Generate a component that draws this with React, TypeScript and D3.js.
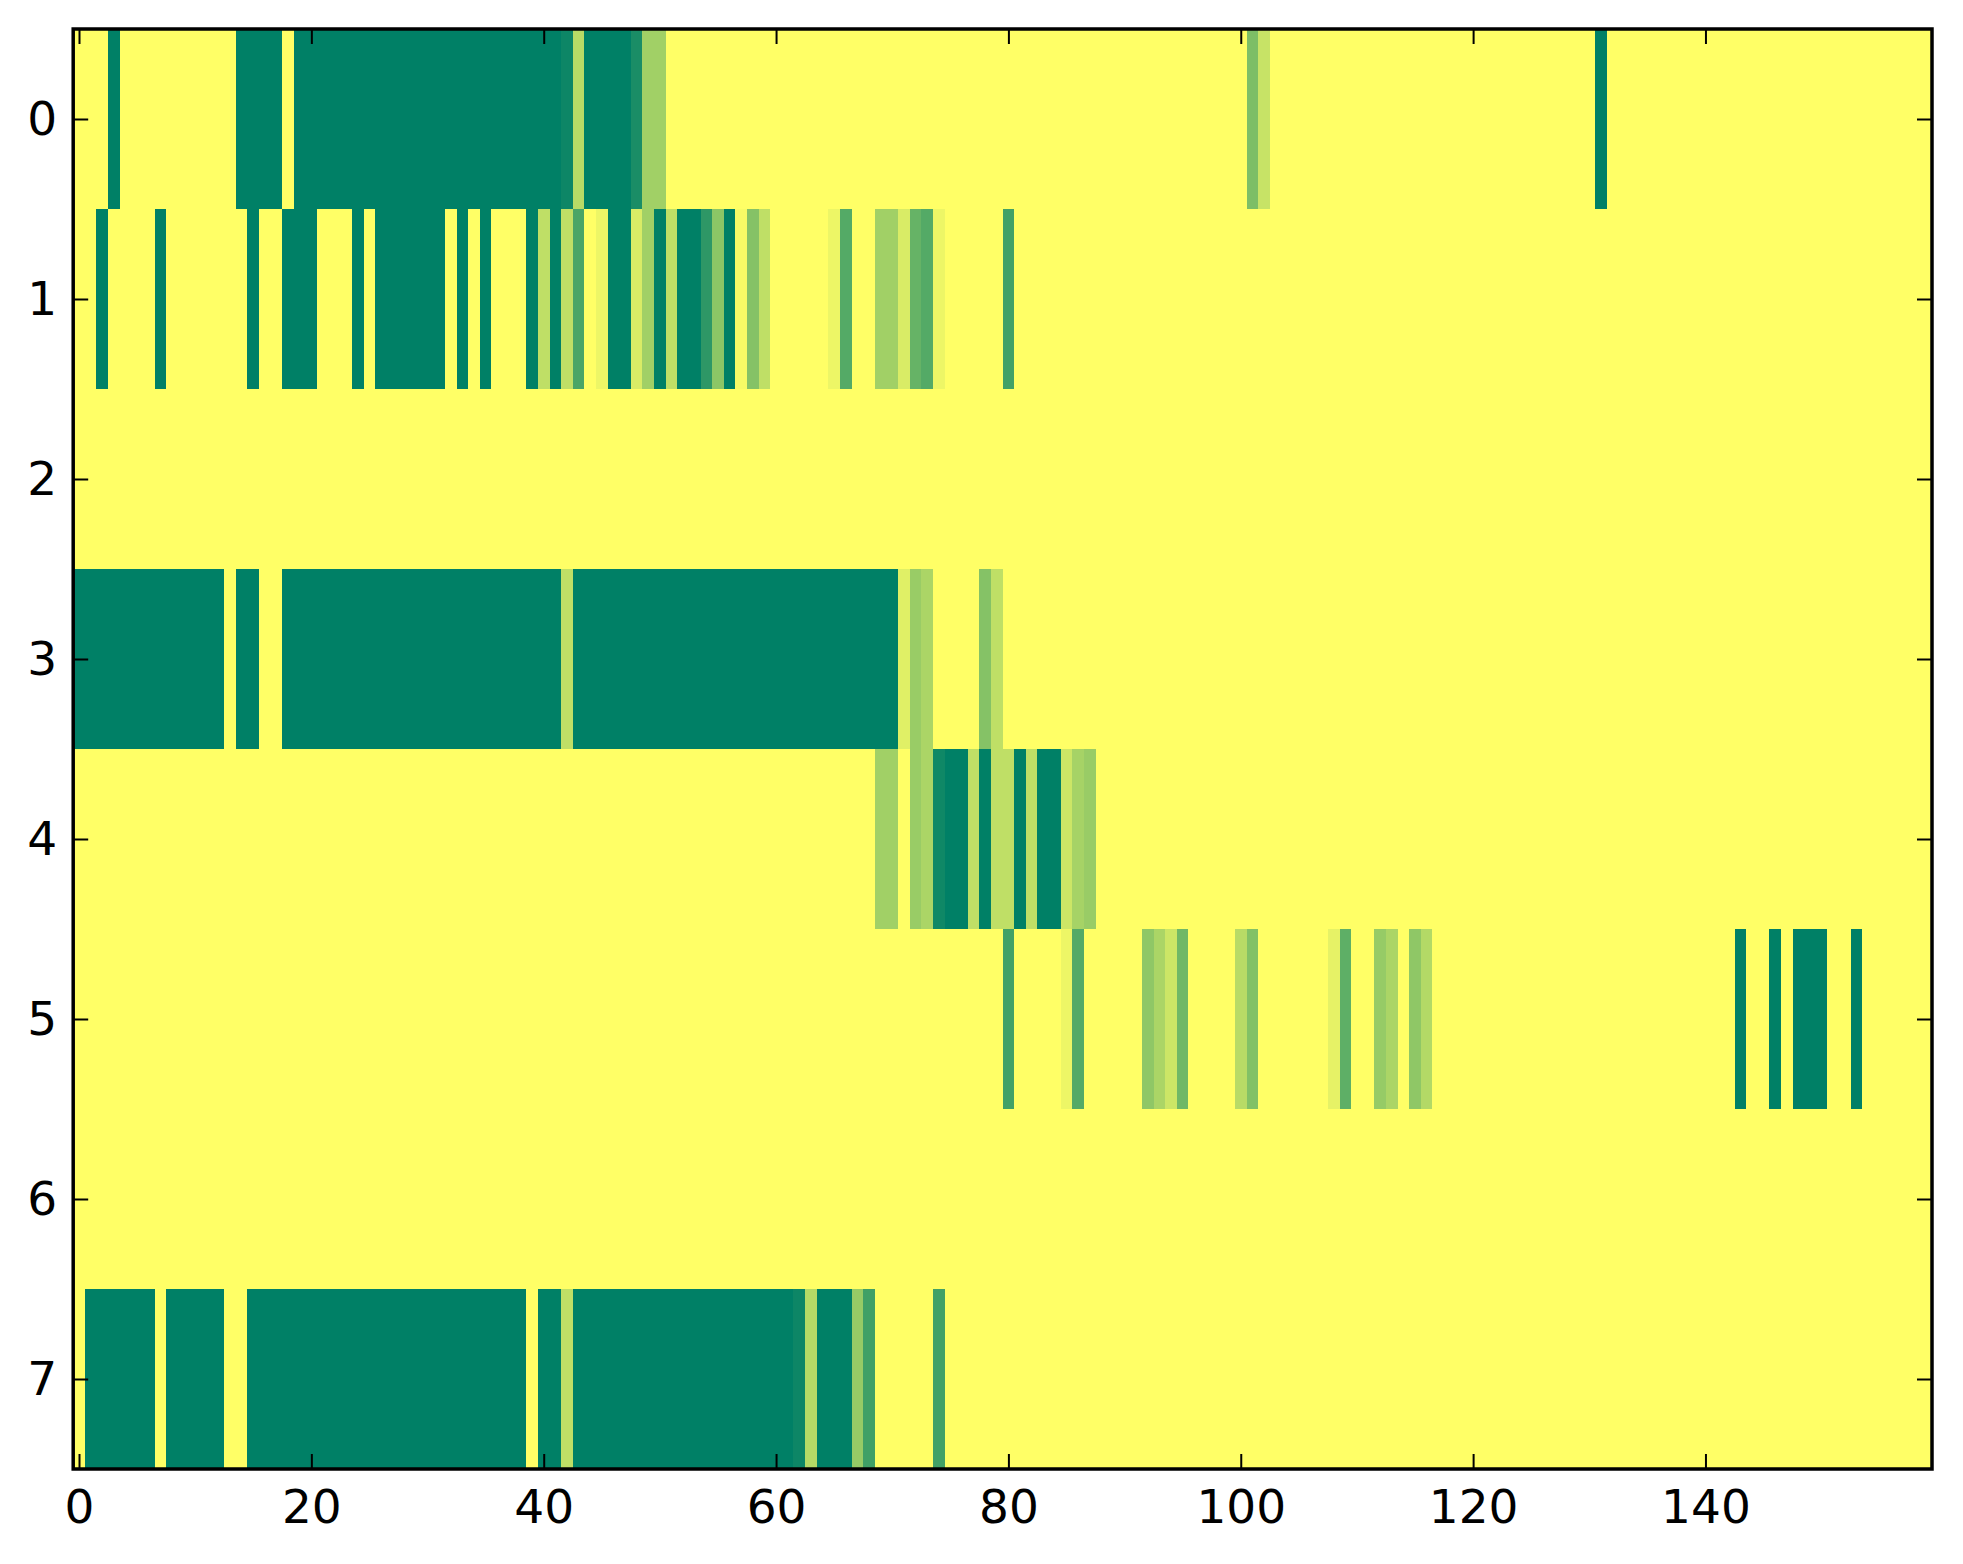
import * as d3 from "d3";
import { useEffect, useRef } from "react";

// each run is [firstColumn, lastColumn, value]; cells not listed are 0
type Run = [number, number, number];

const nCols = 160;
const rowLabels = [0, 1, 2, 3, 4, 5, 6, 7];
const xTicks = [0, 20, 40, 60, 80, 100, 120, 140];

const row0: Run[] = [
  [3, 3, 1], [14, 17, 1], [19, 41, 1], [42, 42, 0.95], [43, 43, 0.28],
  [44, 47, 1], [48, 48, 0.9], [49, 50, 0.37], [101, 101, 0.51],
  [102, 102, 0.22], [131, 131, 1],
];
const row1: Run[] = [
  [2, 2, 1], [7, 7, 1], [15, 15, 1], [18, 20, 1], [24, 24, 1], [26, 31, 1],
  [33, 33, 1], [35, 35, 1], [39, 39, 1], [40, 40, 0.25], [41, 41, 1],
  [42, 42, 0.25], [43, 43, 0.71], [45, 45, 0.07], [46, 47, 1], [48, 48, 0.15],
  [49, 49, 0.37], [50, 50, 1], [51, 51, 0.25], [52, 53, 1], [54, 54, 0.82],
  [55, 55, 0.45], [56, 56, 1], [57, 57, 0.03], [58, 58, 0.48], [59, 59, 0.25],
  [65, 65, 0.07], [66, 66, 0.67], [69, 70, 0.37], [71, 71, 0.15],
  [72, 72, 0.6], [73, 73, 0.67], [74, 74, 0.07], [80, 80, 0.74],
];
const row2: Run[] = [];
const row3: Run[] = [
  [0, 12, 1], [14, 15, 1], [18, 41, 1], [42, 42, 0.25], [43, 70, 1],
  [71, 71, 0.12], [72, 72, 0.4], [73, 73, 0.33], [78, 78, 0.48], [79, 79, 0.25],
];
const row4: Run[] = [
  [69, 70, 0.37], [72, 72, 0.4], [73, 73, 0.33], [74, 74, 0.94], [75, 76, 1],
  [77, 77, 0.25], [78, 78, 1], [79, 80, 0.25], [81, 81, 1], [82, 82, 0.25],
  [83, 84, 1], [85, 85, 0.2], [86, 86, 0.35], [87, 87, 0.4],
];
const row5: Run[] = [
  [80, 80, 0.74], [85, 85, 0.07], [86, 86, 0.67], [92, 92, 0.44],
  [93, 93, 0.33], [94, 94, 0.2], [95, 95, 0.56], [100, 100, 0.28],
  [101, 101, 0.49], [108, 108, 0.1], [109, 109, 0.63], [112, 112, 0.41],
  [113, 113, 0.33], [115, 115, 0.44], [116, 116, 0.3], [143, 143, 1],
  [146, 146, 1], [148, 150, 1], [153, 153, 1],
];
const row6: Run[] = [];
const row7: Run[] = [
  [1, 6, 1], [8, 12, 1], [15, 38, 1], [40, 41, 1], [42, 42, 0.25],
  [43, 61, 1], [62, 62, 0.95], [63, 63, 0.29], [64, 66, 1], [67, 67, 0.41],
  [68, 68, 0.75], [74, 74, 0.74],
];

const rows = [row0, row1, row2, row3, row4, row5, row6, row7];

type Cell = { row: number; col: number; value: number };

export default function App() {
  const svgRef = useRef<SVGSVGElement | null>(null);

  useEffect(() => {
    const width = 1963;
    const height = 1564;
    const margin = { top: 29, right: 31, bottom: 95, left: 73.2 };
    const svg = d3.select(svgRef.current);
    svg.selectAll("*").remove();
    svg.attr("width", width).attr("height", height);

    const x = d3
      .scaleLinear()
      .domain([-0.5, nCols - 0.5])
      .range([margin.left, width - margin.right]);
    const y = d3
      .scaleLinear()
      .domain([-0.5, rows.length - 0.5])
      .range([margin.top, height - margin.bottom]);

    // summer_r colormap
    const color = d3.scaleLinear<string>().domain([0, 1]).range(["#ffff66", "#008066"]);

    const cells: Cell[] = [];
    rows.forEach((runs, r) => {
      for (let c = 0; c < nCols; c++) {
        const run = runs.find((d) => c >= d[0] && c <= d[1]);
        cells.push({ row: r, col: c, value: run ? run[2] : 0 });
      }
    });

    svg
      .append("g")
      .selectAll("rect")
      .data(cells)
      .enter()
      .append("rect")
      .attr("x", (d) => x(d.col - 0.5))
      .attr("y", (d) => y(d.row - 0.5))
      .attr("width", (d) => x(d.col + 0.5) - x(d.col - 0.5) + 0.3)
      .attr("height", (d) => y(d.row + 0.5) - y(d.row - 0.5) + 0.3)
      .attr("fill", (d) => color(d.value))
      .attr("shape-rendering", "crispEdges");

    const font = "'DejaVu Sans', sans-serif";
    const x0 = margin.left;
    const x1 = width - margin.right;
    const y0 = margin.top;
    const y1 = height - margin.bottom;

    const style = (g: d3.Selection<SVGGElement, unknown, null, undefined>) => {
      g.select(".domain").remove();
      g.selectAll(".tick line").attr("stroke", "#000").attr("stroke-width", 2);
      g.selectAll(".tick text")
        .attr("fill", "#000")
        .attr("font-family", font)
        .attr("font-size", 47);
    };

    svg
      .append("g")
      .attr("transform", `translate(0,${y1})`)
      .call(d3.axisBottom(x).tickValues(xTicks).tickSize(-15).tickPadding(21).tickFormat(d3.format("d")))
      .call(style);
    svg
      .append("g")
      .attr("transform", `translate(0,${y0})`)
      .call(d3.axisTop(x).tickValues(xTicks).tickSize(-15).tickFormat(() => ""))
      .call(style);
    svg
      .append("g")
      .attr("transform", `translate(${x0},0)`)
      .call(d3.axisLeft(y).tickValues(rowLabels).tickSize(-15).tickPadding(16).tickFormat(d3.format("d")))
      .call(style);
    svg
      .append("g")
      .attr("transform", `translate(${x1},0)`)
      .call(d3.axisRight(y).tickValues(rowLabels).tickSize(-15).tickFormat(() => ""))
      .call(style);

    svg
      .append("rect")
      .attr("x", x0)
      .attr("y", y0)
      .attr("width", x1 - x0)
      .attr("height", y1 - y0)
      .attr("fill", "none")
      .attr("stroke", "#000")
      .attr("stroke-width", 3.5);
  }, []);

  return (
    <svg
      ref={svgRef}
      style={{ position: "absolute", left: 0, top: 0, display: "block", background: "#fff" }}
    ></svg>
  );
}
